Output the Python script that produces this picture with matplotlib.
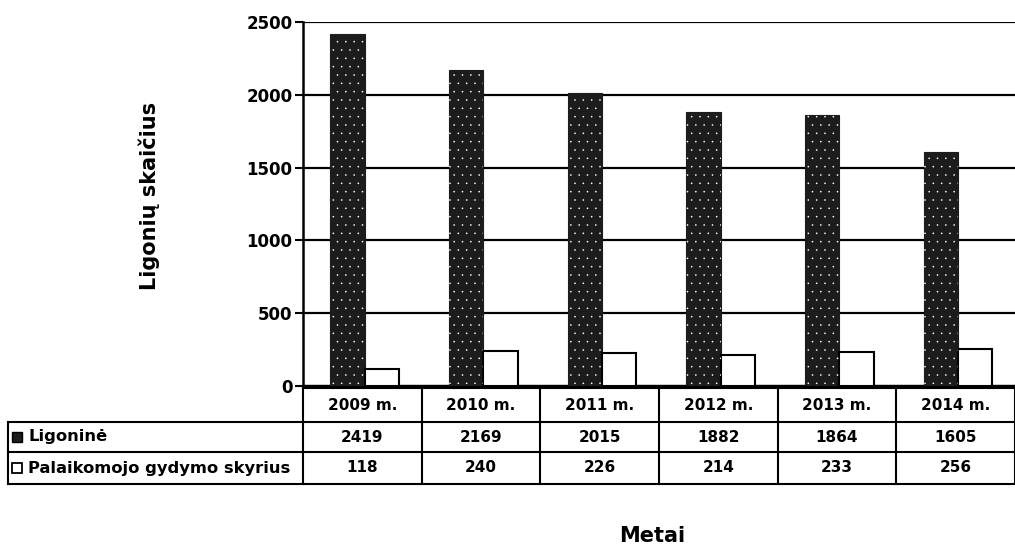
import matplotlib
matplotlib.use("Agg")
import matplotlib.pyplot as plt
from matplotlib.lines import Line2D
import numpy as np

years = ["2009 m.", "2010 m.", "2011 m.", "2012 m.", "2013 m.", "2014 m."]
ligonine = [2419, 2169, 2015, 1882, 1864, 1605]
palaikomojo = [118, 240, 226, 214, 233, 256]
series_names = ["Ligoninė", "Palaikomojo gydymo skyrius"]
yticks = [0, 500, 1000, 1500, 2000, 2500]

plt.rcParams['font.family'] = ['DejaVu Sans']
plt.rcParams['font.weight'] = 'bold'
plt.rcParams['hatch.linewidth'] = 0.0

W, H = 1015, 550
fig = plt.figure(figsize=(W / 100, H / 100), dpi=100)
L, R, T, B = 303, 1015, 22, 386
ax = fig.add_axes([L / W, 1 - B / H, (R - L) / W, (B - T) / H])

x = np.arange(len(years))
bw = 0.29
dark = '#1c1c1c'
ax.bar(x - bw + 0.02, ligonine, width=bw, align='edge', color=dark,
       edgecolor=dark, linewidth=0.8, zorder=3)
ax.bar(x - bw + 0.02, ligonine, width=bw, align='edge', facecolor='none',
       edgecolor='white', hatch='..', linewidth=0, zorder=4)
ax.bar(x + 0.02, palaikomojo, width=bw, align='edge', color='white',
       edgecolor='black', linewidth=1.5, zorder=3)

ax.set_xlim(-0.5, len(years) - 0.5)
ax.set_ylim(0, 2500)
ax.set_yticks(yticks)
ax.set_yticklabels([str(v) for v in yticks], fontsize=12, fontweight='bold')
ax.tick_params(axis='y', length=6, width=1.5, pad=1.5, direction='out')
ax.set_xticks([])
ax.grid(axis='y', color='black', linewidth=1.6, zorder=1)
ax.set_axisbelow(True)
for s in ['top', 'right']:
    ax.spines[s].set_visible(False)
ax.spines['left'].set_linewidth(1.8)
ax.spines['bottom'].set_linewidth(1.6)

ax.set_ylabel("Ligonių skaičius", fontsize=15, fontweight='bold')
ax.yaxis.set_label_coords((160 - L) / (R - L), (B - 196) / (B - T))
ax.set_xlabel("Metai", fontsize=15, fontweight='bold')
ax.xaxis.set_label_coords((652 - L) / (R - L), (B - 526) / (B - T))

# ---- data table drawn below the axes ----
def ay(px):
    return (B - px) / (B - T)

def ax_x(px):
    return (px - L) / (R - L)

rows_px = [388, 422, 452, 484]          # row boundaries (pixels)
xlab = ax_x(8)
xt = ax.get_xaxis_transform()            # x in data, y in axes
ta = ax.transAxes
lw = 1.5
n = len(years)

def hline(xa, xb, y, tr):
    ax.add_line(Line2D([xa, xb], [y, y], transform=tr, color='black',
                       lw=lw, clip_on=False, solid_capstyle='projecting'))

def vline(xv, ya, yb, tr):
    ax.add_line(Line2D([xv, xv], [ya, yb], transform=tr, color='black',
                       lw=lw, clip_on=False, solid_capstyle='projecting'))

hline(0, 1, ay(rows_px[0]), ta)
for p in rows_px[1:]:
    hline(xlab, 1, ay(p), ta)
for k in range(n + 1):
    vline(k - 0.5, ay(rows_px[0]), ay(rows_px[-1]), xt)
vline(xlab, ay(rows_px[1]), ay(rows_px[-1]), ta)

fs = 11
for j, yr in enumerate(years):
    ax.text(j, ay((rows_px[0] + rows_px[1]) / 2), yr, transform=xt,
            ha='center', va='center', fontsize=fs, fontweight='bold', clip_on=False)

key_styles = [dict(marker='s', markersize=7.5, markerfacecolor=dark,
                   markeredgecolor='black', markeredgewidth=1.0),
              dict(marker='s', markersize=7.5, markerfacecolor='white',
                   markeredgecolor='black', markeredgewidth=1.3)]
rows = [(series_names[0], ligonine), (series_names[1], palaikomojo)]
for i, (lab, vals) in enumerate(rows, start=1):
    yc = ay((rows_px[i] + rows_px[i + 1]) / 2)
    ax.add_line(Line2D([ax_x(17)], [yc], transform=ta, linestyle='none',
                       clip_on=False, **key_styles[i - 1]))
    ax.text(ax_x(28), yc, lab, transform=ta, ha='left', va='center',
            fontsize=11.8, fontweight='bold', clip_on=False)
    for j, v in enumerate(vals):
        ax.text(j, yc, str(v), transform=xt, ha='center', va='center',
                fontsize=fs, fontweight='bold', clip_on=False)

fig.savefig("out.png", dpi=100)
